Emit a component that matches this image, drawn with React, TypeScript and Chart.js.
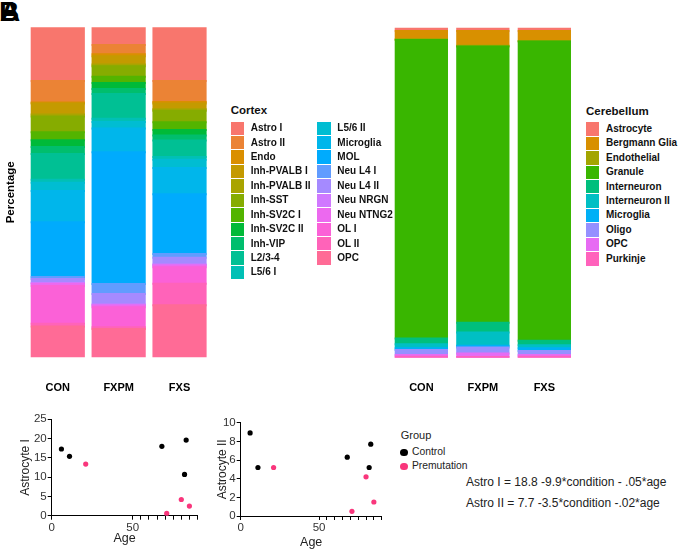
import React, { useEffect, useRef } from 'react';
import { Chart, registerables } from 'chart.js';

Chart.register(...registerables);

const FONT = '"Liberation Sans", Arial, Helvetica, sans-serif';
Chart.defaults.font.family = FONT;

// ---------------- data ----------------
const groups = ['CON', 'FXPM', 'FXS'];

const cortexTypes = [
  'Astro I', 'Astro II', 'Endo', 'Inh-PVALB I', 'Inh-PVALB II', 'Inh-SST', 'Inh-SV2C I',
  'Inh-SV2C II', 'Inh-VIP', 'L2/3-4', 'L5/6 I', 'L5/6 II', 'Microglia', 'MOL', 'Neu L4 I',
  'Neu L4 II', 'Neu NRGN', 'Neu NTNG2', 'OL I', 'OL II', 'OPC',
];
const cortexCON = [16.3, 6.5, 0.3, 3.3, 0.6, 4.8, 2.4, 2.1, 2.1, 7.8, 0.9, 2.5, 9.5, 16.6, 0.6, 1.2, 0.3, 0.6, 11.4, 0.9, 9.3];
const cortexFXPM = [5.4, 2.8, 0.6, 2.5, 0.5, 3.2, 1.9, 1.8, 1.5, 7.5, 1.0, 2.0, 7.2, 39.9, 3.0, 3.2, 0.3, 0.5, 6.1, 0.5, 8.6];
const cortexFXS = [16.3, 6.3, 0.5, 1.7, 0.5, 3.5, 2.3, 1.7, 1.5, 5.0, 0.8, 2.5, 8.0, 18.1, 1.1, 2.1, 0.3, 0.5, 5.0, 6.5, 15.8];

const cerebTypes = [
  'Astrocyte', 'Bergmann Glia', 'Endothelial', 'Granule', 'Interneuron',
  'Interneuron II', 'Microglia', 'Oligo', 'OPC', 'Purkinje',
];
const cerebCON = [1.0, 2.5, 0.2, 90.5, 1.7, 1.2, 0.6, 1.5, 0.5, 0.3];
const cerebFXPM = [1.0, 4.5, 0.2, 83.7, 3.0, 4.0, 0.5, 1.8, 1.1, 0.2];
const cerebFXS = [1.0, 3.0, 0.2, 90.7, 1.3, 0.9, 0.9, 1.2, 0.5, 0.3];

const controlAge = [6, 11, 68, 83, 82];
const controlAstroI = [17.3, 15.4, 18.0, 19.6, 10.7];
const controlAstroII = [8.9, 5.2, 6.3, 7.7, 5.2];
const premAge = [21, 71, 80, 85];
const premAstroI = [13.4, 0.6, 4.2, 2.5];
const premAstroII = [5.2, 0.5, 4.2, 1.5];

const ageTicks = [0, 50, 55, 60, 65, 70, 75, 80, 85, 90];
const ageTickLabels = ['0', '50'];

const groupNames = ['Control', 'Premutation'];
const equations = [
  'Astro I = 18.8 -9.9*condition - .05*age',
  'Astro II = 7.7 -3.5*condition -.02*age',
];

// ---------------- colours (ggplot2 default hue palette) ----------------
function hcl(h: number, c = 100, l = 65): string {
  const WX = 95.047, WY = 100.0, WZ = 108.883;
  const den = WX + 15 * WY + 3 * WZ;
  const un = (4 * WX) / den, vn = (9 * WY) / den;
  const hr = (h * Math.PI) / 180;
  const U = c * Math.cos(hr), V = c * Math.sin(hr);
  const Y = WY * (l > 7.999592 ? Math.pow((l + 16) / 116, 3) : l / 903.3);
  const u = U / (13 * l) + un, v = V / (13 * l) + vn;
  const X = (9.0 * Y * u) / (4 * v);
  const Z = -X / 3 - 5 * Y + (3 * Y) / v;
  const x = X / 100, y = Y / 100, z = Z / 100;
  const lin = [
    3.240479 * x - 1.53715 * y - 0.498535 * z,
    -0.969256 * x + 1.875992 * y + 0.041556 * z,
    0.055648 * x - 0.204043 * y + 1.057311 * z,
  ];
  const g = (t: number) => (t > 0.00304 ? 1.055 * Math.pow(t, 1 / 2.4) - 0.055 : 12.92 * t);
  return '#' + lin.map((t) => Math.round(255 * Math.min(1, Math.max(0, g(t)))).toString(16).padStart(2, '0')).join('');
}
function huePal(n: number): string[] {
  const out: string[] = [];
  for (let i = 0; i < n; i++) out.push(hcl(15 + (360 * i) / n));
  return out;
}
const cortexColors = huePal(cortexTypes.length);
const cerebColors = huePal(cerebTypes.length);
const controlColor = '#000000';
const premColor = '#F9367C';

// ---------------- chart configs ----------------
function stackedConfig(types: string[], colors: string[], vals: number[][], opts: any) {
  const datasets = types
    .map((t, i) => ({
      label: t,
      data: vals.map((v) => v[i]),
      backgroundColor: colors[i],
      borderWidth: 0,
      inflateAmount: 1,
      categoryPercentage: 1,
      barPercentage: opts.barPct,
    }))
    .reverse();
  return {
    type: 'bar',
    data: { labels: groups, datasets },
    options: {
      animation: false,
      responsive: false,
      layout: { padding: opts.padding },
      plugins: { legend: { display: false }, tooltip: { enabled: false } },
      scales: {
        x: {
          stacked: true,
          grid: { display: false, drawTicks: false },
          border: { display: false },
          ticks: { font: { size: 11, weight: 'bold' }, color: '#000', padding: opts.labelPad },
          afterFit: (s: any) => { s.height = opts.xHeight; },
        },
        y: {
          stacked: true,
          min: 0,
          max: 100,
          display: opts.yTitle ? true : false,
          ticks: { display: false },
          grid: { display: false, drawTicks: false },
          border: { display: false },
          title: opts.yTitle
            ? { display: true, text: opts.yTitle, font: { size: 11.5, weight: 'bold' }, color: '#000', padding: { top: 4, bottom: 4 } }
            : { display: false },
          afterFit: (s: any) => { s.width = opts.yWidth; },
        },
      },
    },
  };
}

function scatterConfig(ctrlY: number[], premY: number[], o: any) {
  return {
    type: 'scatter',
    data: {
      datasets: [
        { label: groupNames[0], data: controlAge.map((a, i) => ({ x: a, y: ctrlY[i] })), backgroundColor: controlColor, pointRadius: 2.6, borderWidth: 0 },
        { label: groupNames[1], data: premAge.map((a, i) => ({ x: a, y: premY[i] })), backgroundColor: premColor, pointRadius: 2.6, borderWidth: 0 },
      ],
    },
    options: {
      animation: false,
      responsive: false,
      layout: { padding: { top: o.top, right: o.right, left: 0, bottom: 0 } },
      plugins: { legend: { display: false }, tooltip: { enabled: false } },
      scales: {
        x: {
          type: 'linear',
          min: 0,
          max: 90,
          afterBuildTicks: (s: any) => { s.ticks = ageTicks.map((v) => ({ value: v })); },
          ticks: {
            autoSkip: false,
            maxRotation: 0,
            font: { size: 11.5 },
            color: '#333',
            padding: 1,
            callback: (v: any) => (ageTickLabels.includes(String(v)) ? String(v) : ''),
          },
          grid: { display: true, drawOnChartArea: false, drawTicks: true, tickLength: 4, color: '#000' },
          border: { display: true, color: '#000', width: 1 },
          title: { display: true, text: 'Age', font: { size: 12.5 }, color: '#222', padding: { top: o.agePad, bottom: o.agePad } },
          afterFit: (s: any) => { s.height = o.xHeight; },
        },
        y: {
          type: 'linear',
          min: 0,
          max: o.yMax,
          ticks: { stepSize: o.yStep, font: { size: 11.5 }, color: '#333', padding: 1 },
          grid: { display: true, drawOnChartArea: false, drawTicks: true, tickLength: 4, color: '#000' },
          border: { display: true, color: '#000', width: 1 },
          title: { display: true, text: o.yTitle, font: { size: 12 }, color: '#222', padding: { top: o.yTitlePad, bottom: o.yTitlePad } },
          afterFit: (s: any) => { s.width = o.yWidth; },
        },
      },
    },
  };
}

function ChartBox({ left, top, width, height, config }: any) {
  const ref = useRef<HTMLCanvasElement>(null);
  useEffect(() => {
    if (!ref.current) return;
    const chart = new Chart(ref.current, config);
    return () => chart.destroy();
  }, []);
  return (
    <div style={{ position: 'absolute', left, top, width, height }}>
      <canvas ref={ref} width={width} height={height} style={{ width, height, display: 'block' }} />
    </div>
  );
}

function LegendBlock({ title, items, colors, x, titleY, firstY, split }: any) {
  const rowH = 14.43;
  const cols: { names: string[]; offset: number }[] = [];
  if (split) {
    cols.push({ names: items.slice(0, split), offset: 0 });
    cols.push({ names: items.slice(split), offset: split });
  } else cols.push({ names: items, offset: 0 });
  const colX = [x, x + 86.6];
  return (
    <>
      <div style={{ position: 'absolute', left: x, top: titleY - 8, height: 16, lineHeight: '16px', fontSize: 11.5, fontWeight: 'bold', color: '#111', whiteSpace: 'nowrap' }}>{title}</div>
      {cols.map((c, ci) =>
        c.names.map((n: string, i: number) => {
          const cy = firstY + i * rowH;
          return (
            <React.Fragment key={ci + '-' + i}>
              <div style={{ position: 'absolute', left: colX[ci], top: cy - 6.7, width: 13.4, height: 13.4, background: colors[c.offset + i] }} />
              <div style={{ position: 'absolute', left: colX[ci] + 20, top: cy - 7.2, height: 14.4, lineHeight: '14.4px', fontSize: 10, fontWeight: 'bold', color: '#111', whiteSpace: 'nowrap' }}>{n}</div>
            </React.Fragment>
          );
        })
      )}
    </>
  );
}

export default function App() {
  const cortexCfg = stackedConfig(cortexTypes, cortexColors, [cortexCON, cortexFXPM, cortexFXS], {
    barPct: 0.857,
    padding: { top: 27.3, right: 215 - 210.35, left: 0, bottom: 0 },
    labelPad: 24,
    xHeight: 400 - 357.3,
    yTitle: 'Percentage',
    yWidth: 27.35,
  });
  const cerebCfg = stackedConfig(cerebTypes, cerebColors, [cerebCON, cerebFXPM, cerebFXS], {
    barPct: 0.834,
    padding: { top: 27.7, right: 200 - 195.1, left: 10.6, bottom: 0 },
    labelPad: 24,
    xHeight: 400 - 357.7,
    yTitle: null,
    yWidth: 0,
  });
  const s1 = scatterConfig(controlAstroI, premAstroI, {
    top: 19.3, right: 17.5, xHeight: 151 - 115.7, yWidth: 51.7, yMax: 25, yStep: 5,
    yTitle: 'Astrocyte I', yTitlePad: 18.5, agePad: 5.2,
  });
  const s2 = scatterConfig(controlAstroII, premAstroII, {
    top: 22.7, right: 13.3, xHeight: 151 - 116, yWidth: 25.7, yMax: 10, yStep: 2,
    yTitle: 'Astrocyte II', yTitlePad: 0, agePad: 1.2,
  });

  return (
    <div style={{ position: 'absolute', left: 0, top: 0, width: 680, height: 551, overflow: 'hidden', background: '#fff', fontFamily: FONT }}>
      <div style={{ position: 'absolute', left: -1, top: -2, fontSize: 28, lineHeight: '28px', fontWeight: 'bold', color: '#000' }}>B</div>
      <div style={{ position: 'absolute', left: 0, top: -2, fontSize: 28, lineHeight: '28px', fontWeight: 'bold', color: '#000' }}>A</div>

      <ChartBox left={0} top={0} width={215} height={400} config={cortexCfg} />
      <ChartBox left={380} top={0} width={200} height={400} config={cerebCfg} />
      <ChartBox left={0} top={400} width={215} height={151} config={s1} />
      <ChartBox left={215} top={400} width={180} height={151} config={s2} />

      <LegendBlock title="Cortex" items={cortexTypes} colors={cortexColors} x={230.7} titleY={110} firstY={128.3} split={11} />
      <LegendBlock title="Cerebellum" items={cerebTypes} colors={cerebColors} x={586} titleY={110.7} firstY={129} />

      <div style={{ position: 'absolute', left: 400.7, top: 427, height: 16, lineHeight: '16px', fontSize: 11, color: '#222' }}>Group</div>
      {groupNames.map((g, i) => (
        <React.Fragment key={g}>
          <div style={{ position: 'absolute', left: 404 - 3.6, top: 452.3 + i * 13.9 - 3.6, width: 7.2, height: 7.2, borderRadius: '50%', background: i === 0 ? controlColor : premColor }} />
          <div style={{ position: 'absolute', left: 412, top: 452.3 + i * 13.9 - 7, height: 14, lineHeight: '14px', fontSize: 10.3, color: '#222', whiteSpace: 'nowrap' }}>{g}</div>
        </React.Fragment>
      ))}
      {equations.map((e, i) => (
        <div key={e} style={{ position: 'absolute', left: 466, top: 481.7 + i * 21 - 8, height: 16, lineHeight: '16px', fontSize: 12, color: '#222', whiteSpace: 'nowrap' }}>{e}</div>
      ))}
    </div>
  );
}
